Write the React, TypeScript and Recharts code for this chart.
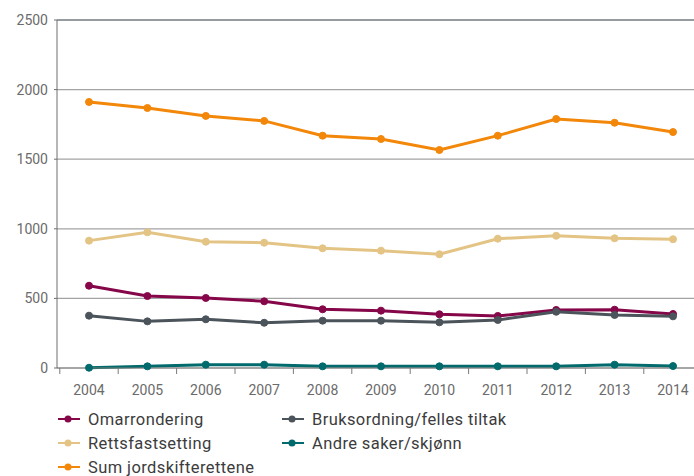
import React from "react";
import { LineChart, Line, XAxis, YAxis, CartesianGrid, ReferenceLine } from "recharts";

const years = ["2004", "2005", "2006", "2007", "2008", "2009", "2010", "2011", "2012", "2013", "2014"];
const omarrondering = [591, 517, 503, 479, 422, 412, 386, 374, 417, 419, 388];
const bruksordning = [376, 335, 350, 325, 340, 340, 328, 345, 404, 381, 371];
const rettsfastsetting = [915, 975, 907, 900, 860, 843, 817, 929, 950, 932, 925];
const andreSaker = [2, 12, 24, 24, 12, 12, 12, 12, 12, 24, 14];
const sumJordskifterettene = [1911, 1868, 1811, 1775, 1669, 1645, 1566, 1669, 1789, 1762, 1695];
const yTicks = [0, 500, 1000, 1500, 2000, 2500];

const series = [
  { key: "omarrondering", name: "Omarrondering", color: "#86064a", values: omarrondering },
  { key: "bruksordning", name: "Bruksordning/felles tiltak", color: "#4b535b", values: bruksordning },
  { key: "rettsfastsetting", name: "Rettsfastsetting", color: "#e3c485", values: rettsfastsetting },
  { key: "andre", name: "Andre saker/skjønn", color: "#006a6c", values: andreSaker },
  { key: "sum", name: "Sum jordskifterettene", color: "#f2870a", values: sumJordskifterettene },
];

const data = years.map((y, i) => {
  const row: any = { year: y };
  series.forEach((s) => (row[s.key] = s.values[i]));
  return row;
});

const FONT = "Roboto, 'DejaVu Sans', sans-serif";
const HALF = 29.2;

const XTick = (props: any) => {
  const { x, y, payload } = props;
  return (
    <g>
      <line x1={x - HALF} x2={x - HALF} y1={y} y2={y + 6} stroke="#7a7a7a" strokeWidth={1} />
      <text x={x} y={y + 27} textAnchor="middle" fill="#6b6b6b" fontSize={14} fontFamily={FONT}>
        {payload.value}
      </text>
    </g>
  );
};

const legendOrder = [
  ["omarrondering", "bruksordning"],
  ["rettsfastsetting", "andre"],
  ["sum"],
];

const LegendItem = ({ s }: any) => (
  <div style={{ display: "flex", alignItems: "center", height: 24, whiteSpace: "nowrap" }}>
    <svg width={31} height={12} style={{ flexShrink: 0 }}>
      <line x1={1} x2={23} y1={6} y2={6} stroke={s.color} strokeWidth={2} />
      <circle cx={11} cy={6} r={3.5} fill={s.color} />
    </svg>
    <span style={{ fontFamily: FONT, fontSize: 16.5, letterSpacing: 0.4, color: "#3c3c3c", whiteSpace: "nowrap" }}>
      {s.name}
    </span>
  </div>
);

export default function App() {
  return (
    <div style={{ position: "absolute", left: 0, top: 0, width: 694, height: 476, overflow: "hidden", background: "#fff" }}>
      <LineChart width={694} height={476} data={data} margin={{ top: 20, right: 0, bottom: 78, left: 0 }}>
        <CartesianGrid vertical={false} stroke="#a3a3a3" strokeWidth={1.2} />
        <ReferenceLine y={2500} stroke="#5d6670" strokeWidth={1.2} />
        <XAxis
          dataKey="year"
          padding={{ left: 32, right: 21 }}
          tickLine={false}
          tickSize={0}
          tickMargin={0}
          height={30}
          stroke="#7a7a7a"
          tick={<XTick />}
          interval={0}
        />
        <YAxis
          domain={[0, 2500]}
          ticks={yTicks}
          width={57}
          tickSize={3}
          tickMargin={6}
          stroke="#6e6e6e"
          tick={{ fill: "#6b6b6b", fontSize: 14, fontFamily: FONT }}
        />
        {series.map((s) => (
          <Line
            key={s.key}
            dataKey={s.key}
            name={s.name}
            stroke={s.color}
            strokeWidth={3}
            dot={{ r: 3.5, fill: s.color, stroke: s.color, strokeWidth: 1 }}
            isAnimationActive={false}
          />
        ))}
      </LineChart>
      <div style={{ position: "absolute", left: 57, top: 407, width: 620 }}>
        {legendOrder.map((row, ri) => (
          <div key={ri} style={{ display: "flex" }}>
            {row.map((k) => {
              const s = series.find((x) => x.key === k);
              return (
                <div key={k} style={{ width: 224, flexShrink: 0 }}>
                  <LegendItem s={s} />
                </div>
              );
            })}
          </div>
        ))}
      </div>
    </div>
  );
}
